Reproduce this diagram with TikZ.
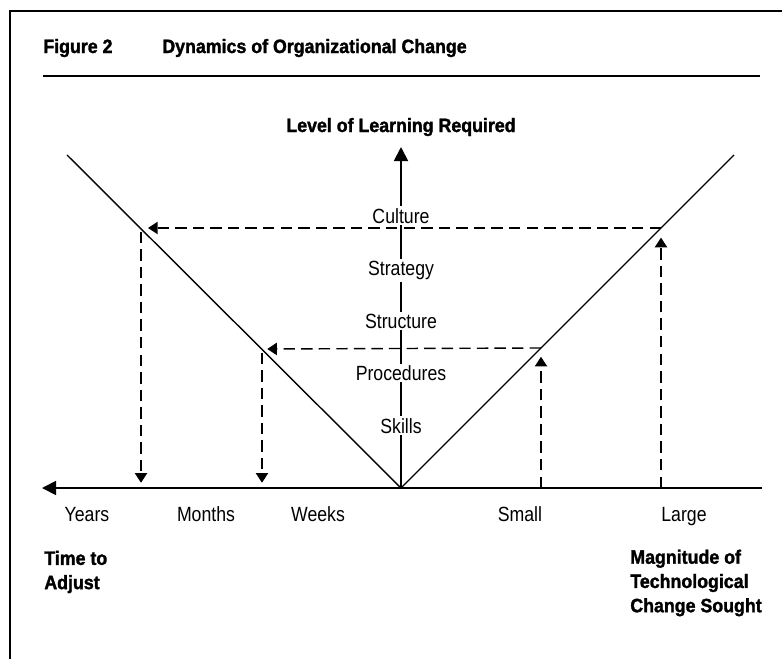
\documentclass[tikz,border=0pt]{standalone}
\usepackage{fontspec}
\setmainfont{Liberation Sans}[FakeStretch=0.86]
\newfontfamily\headfont{Liberation Sans}[FakeStretch=0.92, BoldFeatures={FakeBold=1.6}]
\usetikzlibrary{arrows.meta, positioning}

\begin{document}
\begin{tikzpicture}[
  lvl/.style={fill=white, inner sep=1pt, anchor=base, font=\fontsize{11.7}{14}\selectfont},
  tick/.style={anchor=base, inner sep=0pt, font=\fontsize{11.7}{14}\selectfont},
  head/.style={inner sep=0pt, font=\headfont\bfseries\fontsize{11}{13.8}\selectfont},
  tip/.style={-{Triangle[length=8pt, width=8pt]}, line width=1pt},
  vee/.style={line width=0.8pt},
  proj/.style={-{Triangle[length=5.5pt, width=7pt]}, line width=0.8pt, dash pattern=on 6.5pt off 3.5pt}
]
  \useasboundingbox (-8.02,-3.42) rectangle (7.62,9.76);

  % frame and heading
  \draw[line width=1pt] (7.62,9.54) -- (-7.82,9.54) -- (-7.82,-3.42);
  \node[head, anchor=base west] (fig) at (-7.16,8.7) {Figure 2};
  \node[head, anchor=base west] (title) at (-4.78,8.7) {Dynamics of Organizational Change};
  \draw[line width=0.8pt] (-7.16,8.24) -- (7.18,8.24);

  % axes
  \coordinate (apex) at (0,0);
  \coordinate (west) at (-7.18,0);
  \coordinate (east) at (7.22,0);
  \coordinate (top) at (0,6.82);
  \draw[tip, {Triangle[length=8pt, width=8pt]}-] (west) -- (east);
  \draw[tip] (apex) -- (top);
  \node[head, anchor=base] (ylabel) at (0,7.12) {Level of Learning Required};

  % the V
  \coordinate (vl) at (-6.68,6.66);
  \coordinate (vr) at (6.66,6.66);
  \draw[vee] (vl) -- (apex) -- (vr);

  \coordinate (cultL) at (-5.2,5.2);
  \coordinate (cultR) at (5.2,5.2);
  \coordinate (strL) at (-2.78,2.78);
  \coordinate (strR) at (2.8,2.8);

  % projections
  \draw[proj, shorten >=4pt] (cultR) -- (cultL);
  \draw[proj, shorten >=3pt] (strR) -- (strL);
  \draw[proj, shorten <=2pt, shorten >=3pt] (cultL) -- (cultL |- apex);
  \draw[proj, shorten <=2pt, shorten >=3pt] (strL) -- (strL |- apex);
  \draw[proj, shorten >=5.5pt] (cultR |- apex) -- (cultR);
  \draw[proj, shorten >=5pt] (strR |- apex) -- (strR);

  % levels
  \node[lvl] (culture) at (0,5.3) {Culture};
  \node[lvl] (strategy) at (0,4.25) {Strategy};
  \node[lvl] (structure) at (0,3.2) {Structure};
  \node[lvl] (procedures) at (0,2.15) {Procedures};
  \node[lvl] (skills) at (0,1.1) {Skills};

  % scale labels
  \node[tick] (years) at (-6.28,-0.675) {Years};
  \node[tick] (months) at (-3.9,-0.675) {Months};
  \node[tick] (weeks) at (-1.66,-0.675) {Weeks};
  \node[tick] (small) at (2.38,-0.675) {Small};
  \node[tick] (large) at (5.66,-0.675) {Large};

  \node[head, anchor=west, align=left] (time) at (-7.14,-1.68) {Time to\\Adjust};
  \node[head, anchor=west, align=left] (magnitude) at (4.58,-1.9) {Magnitude of\\Technological\\Change Sought};
\end{tikzpicture}
\end{document}
